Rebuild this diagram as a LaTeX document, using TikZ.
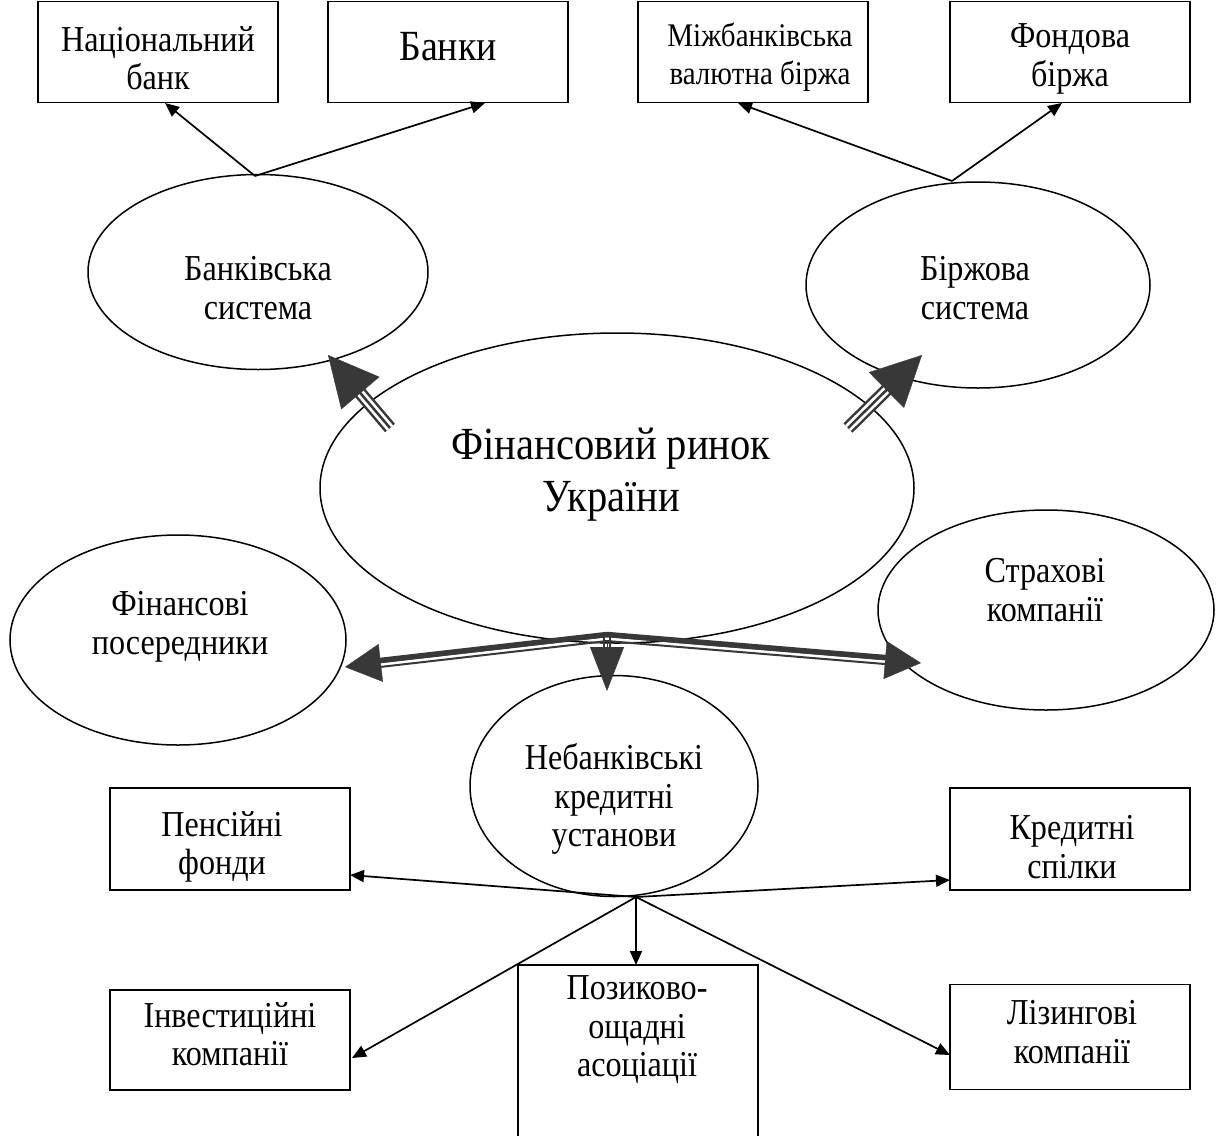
\documentclass[tikz,border=0pt]{standalone}
\usepackage{fontspec}
\setmainfont[FakeStretch=0.88]{Liberation Serif}
\usetikzlibrary{arrows.meta,shapes.geometric,calc}
\definecolor{dk}{HTML}{383838}
\begin{document}
\begin{tikzpicture}[x=1pt,y=-1pt,
  lbl/.style={font=\fontsize{36.5}{38.5}\selectfont, align=center, inner sep=0pt},
  box/.style={draw, line width=1.6pt, minimum width=240pt, minimum height=101pt, inner sep=0pt},
  oval/.style={draw, ellipse, line width=1.5pt, inner sep=0pt},
  arr/.style={line width=1.7pt, -{Triangle[length=14pt,width=12pt]}},
  tripA/.style={dk, line width=13pt, shorten >=40pt},
  tripB/.style={white, line width=8pt, shorten >=38pt},
  tripC/.style={dk, line width=2.5pt, shorten >=40pt},
  bighead/.style={dk, line width=0.4pt, -{Triangle[length=50pt,width=50pt]}},
  midhead/.style={dk, line width=0.4pt, -{Triangle[length=36pt,width=38pt]}}
]
\useasboundingbox (0,0) rectangle (1217,1135);

% top row of boxes
\node[box] (nb) at (158,52) {};
\node[box] (bk) at (448,52) {};
\node[box, minimum width=230pt] (mvb) at (753,52) {};
\node[box] (fb) at (1070,52) {};
\node[lbl] at (158,58) {Національний\\банк};
\node[lbl, font=\fontsize{43}{45}\selectfont] at (448,47) {Банки};
\node[lbl, font=\fontsize{33}{37.5}\selectfont] at (760,57) {Міжбанківська\\валютна біржа};
\node[lbl] at (1070,59) {Фондова\\біржа};

% systems
\node[oval, minimum width=340pt, minimum height=195pt] (bs) at (258,272) {};
\node[lbl] at (258,288) {Банківська\\система};
\node[oval, minimum width=344pt, minimum height=206pt] (bzs) at (978,285) {};
\node[lbl] at (975,288) {Біржова\\система};

% centre
\node[oval, minimum width=594pt, minimum height=310pt] (fr) at (617,488) {};
\node[lbl, font=\fontsize{46}{52}\selectfont] at (611,475) {Фінансовий ринок\\України};

\node[oval, minimum width=336pt, minimum height=210pt] (fp) at (178,640) {};
\node[lbl] at (180,627) {Фінансові\\посередники};
\node[oval, minimum width=336pt, minimum height=200pt] (sk) at (1046,610) {};
\node[lbl] at (1045,590) {Страхові\\компанії};

\node[oval, minimum width=288pt, minimum height=221pt] (nku) at (614,786) {};
\node[lbl] at (614,799) {Небанківські\\кредитні\\установи};

% bottom boxes
\node[box, minimum height=102pt] (pf) at (230,839) {};
\node[lbl] at (222,847) {Пенсійні\\фонди};
\node[box, minimum height=102pt] (ks) at (1070,839) {};
\node[lbl] at (1072,847) {Кредитні\\спілки};
\node[box, minimum height=100pt] (ik) at (230,1040) {};
\node[lbl] at (230,1034) {Інвестиційні\\компанії};
\node[box, minimum height=172pt] (poa) at (638,1051) {};
\node[lbl] at (637,1030) {Позиково-\\ощадні\\асоціації};
\node[box, minimum height=105pt] (lk) at (1070,1037) {};
\node[lbl] at (1072,1032) {Лізингові\\компанії};

% connection points
\coordinate (bsTop) at (255,176);
\coordinate (nbIn) at (165,103);
\coordinate (bkIn) at (485,103);
\coordinate (bzTop) at (952,181);
\coordinate (mvbIn) at (738,103);
\coordinate (fbIn) at (1062,103);
\coordinate (frL) at (390,428);
\coordinate (bsIn) at (328,355);
\coordinate (frR) at (848,428);
\coordinate (bzIn) at (922,355);
\coordinate (J) at (607,637);
\coordinate (fpIn) at (345,667);
\coordinate (skIn) at (921,663);
\coordinate (nkuIn) at (607,691);
\coordinate (K) at (636,897);
\coordinate (pfIn) at (350,875);
\coordinate (ksIn) at (950,880);
\coordinate (poaIn) at (636,965);
\coordinate (ikIn) at (352,1058);
\coordinate (lkIn) at (950,1055);

% thin arrows to the institutions
\draw[arr] (bsTop) -- (nbIn);
\draw[arr] (bsTop) -- (bkIn);
\draw[arr] (bzTop) -- (mvbIn);
\draw[arr] (bzTop) -- (fbIn);
\draw[arr] (K) -- (pfIn);
\draw[arr] (K) -- (ksIn);
\draw[arr] (K) -- (poaIn);
\draw[arr] (K) -- (ikIn);
\draw[arr] (K) -- (lkIn);

% triple arrows from the centre to the systems
\foreach \a/\b in {frL/bsIn, frR/bzIn}{
  \draw[tripA] (\a) -- (\b);
  \draw[tripB] (\a) -- (\b);
  \draw[tripC] (\a) -- (\b);
  \draw[bighead] (\a) -- (\b);
}

% double arrows from the centre downwards
\foreach \b in {fpIn, skIn}{
  \draw[dk, line width=5.5pt, shorten >=30pt, transform canvas={yshift=2.5pt}] (J) -- (\b);
  \draw[dk, line width=2pt, shorten >=30pt, transform canvas={yshift=-4pt}] (J) -- (\b);
  \draw[midhead] (J) -- (\b);
}
\draw[dk, line width=1.6pt, transform canvas={xshift=-3pt}] (J) -- ($(nkuIn)+(0,-40)$);
\draw[dk, line width=1.6pt, transform canvas={xshift=3pt}] (J) -- ($(nkuIn)+(0,-40)$);
\draw[dk, line width=0.4pt, -{Triangle[length=44pt,width=34pt]}] ($(J)+(0,5)$) -- (nkuIn);
\end{tikzpicture}
\end{document}
